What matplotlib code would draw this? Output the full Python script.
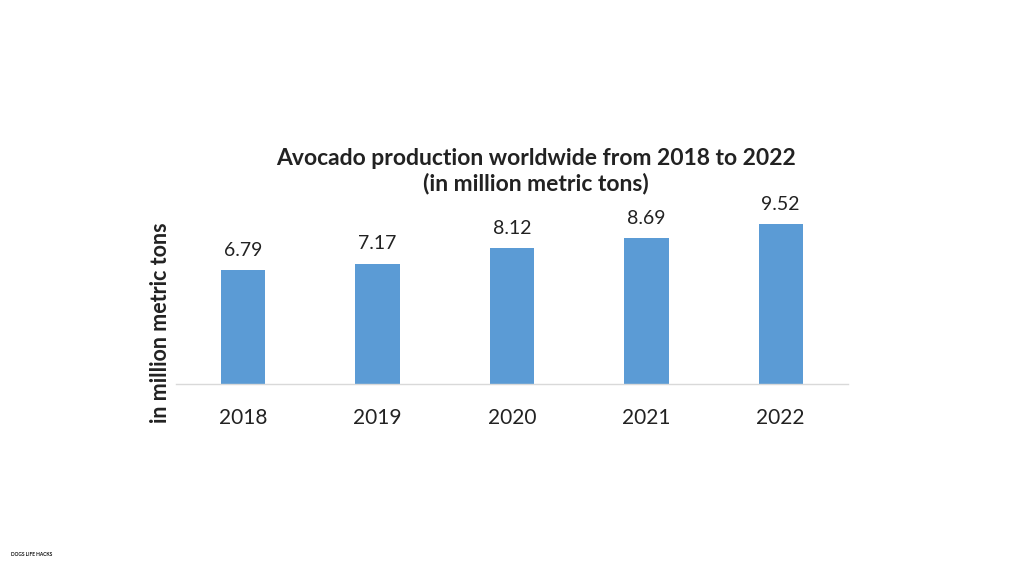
import matplotlib.pyplot as plt

years = ['2018', '2019', '2020', '2021', '2022']
production = [6.79, 7.17, 8.12, 8.69, 9.52]

title = "Avocado production worldwide from 2018 to 2022\n(in million metric tons)"
ylabel = "in million metric tons"

plt.rcParams['font.family'] = ['Lato', 'DejaVu Sans']

fig = plt.figure(figsize=(10.24, 5.76), dpi=100)
ax = fig.add_axes([0.172, 0.333, 0.656, 0.292])

x = range(len(years))
bars = ax.bar(x, production, width=0.33, color='#5b9bd5')
for rect, val in zip(bars, production):
    ax.annotate(f"{val:.2f}", (rect.get_x() + rect.get_width() / 2, val),
                xytext=(0, 8), textcoords='offset points',
                ha='center', va='bottom', fontsize=14, color='#222222')

ax.set_xlim(-0.5, 4.5)
ax.set_ylim(0, 10)
ax.set_xticks(list(x))
ax.set_xticklabels(years, fontsize=15, color='#222222')
ax.tick_params(axis='x', length=0, pad=17)
ax.set_yticks([])
for side in ['top', 'right', 'left']:
    ax.spines[side].set_visible(False)
ax.spines['bottom'].set_color('#d9d9d9')
ax.spines['bottom'].set_linewidth(1)

fig.text(0.157, 0.44, ylabel, rotation=90, ha='center', va='center',
         fontsize=15.5, fontweight='bold', color='#222222')
fig.text(0.523, 0.703, title, ha='center', va='center', fontsize=16.5,
         fontweight='bold', color='#222222', linespacing=1.2)

# small logo text in the corner
fig.text(0.031, 0.038, "DOGS LIFE HACKS", ha='center', va='center',
         fontsize=3.5, fontweight='bold', color='#111111')

fig.savefig('out.png', dpi=100, facecolor='white')
